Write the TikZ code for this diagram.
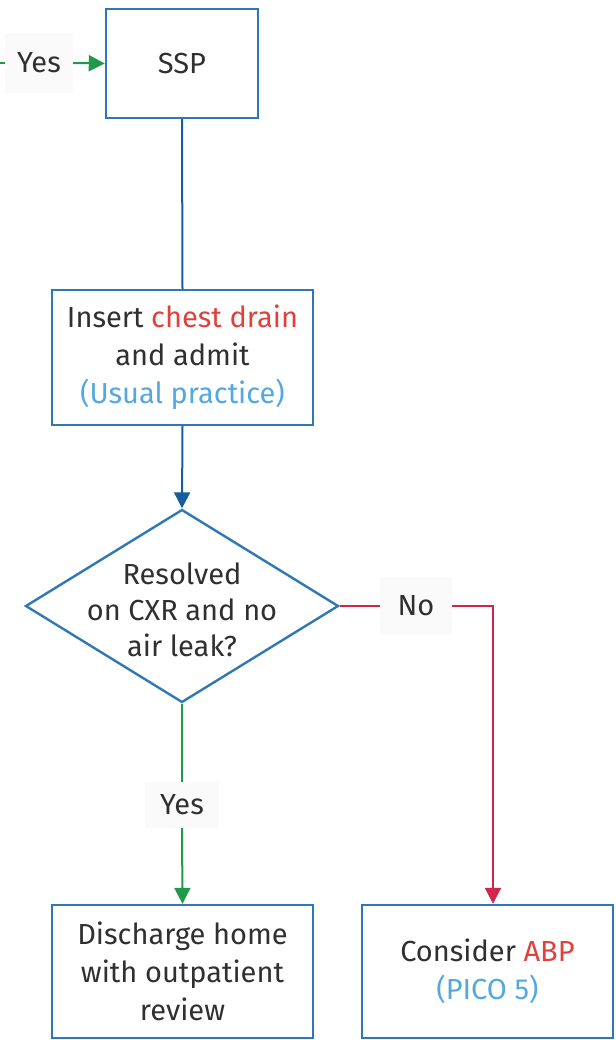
\documentclass[tikz,border=0pt]{standalone}
\usepackage{fontspec}
\setmainfont{Fira Sans}
\usetikzlibrary{arrows.meta,shapes.geometric}
\definecolor{boxblue}{HTML}{2F78B4}
\definecolor{lineblue}{HTML}{135E9E}
\definecolor{txt}{HTML}{303030}
\definecolor{hired}{HTML}{E0413C}
\definecolor{hiblue}{HTML}{55A8DF}
\definecolor{yesgreen}{HTML}{1E9A4A}
\definecolor{nored}{HTML}{D2254C}
\definecolor{lblbg}{HTML}{FAFAFA}
\begin{document}
\begin{tikzpicture}[x=1pt,y=-1pt,
  font=\fontsize{29}{38}\selectfont\color{txt},
  stepbox/.style={draw=boxblue,line width=2.4pt,fill=white,align=center,inner sep=0pt},
  decision/.style={diamond,draw=boxblue,line width=2.4pt,fill=white,inner sep=0pt,
    minimum width=313pt,minimum height=193pt,aspect=1.62},
  lbl/.style={fill=lblbg,inner sep=0pt},
  tip/.style={-{Triangle[width=16pt,length=16pt]}},
  blueline/.style={draw=lineblue,line width=2pt},
  greenline/.style={draw=yesgreen,line width=2pt},
  redline/.style={draw=nored,line width=2pt}]
\useasboundingbox (0,0) rectangle (615,1040);

% boxes
\node[stepbox,minimum width=152pt,minimum height=109pt] (ssp) at (182,63.5) {SSP};
\node[stepbox,minimum width=261pt,minimum height=135pt] (drain) at (182.5,357.5)
  {Insert \textcolor{hired}{chest drain}\\and admit\\\textcolor{hiblue}{(Usual practice)}};
\node[decision] (dia) at (182,606) {};
\node[align=center,font=\fontsize{29}{36}\selectfont\color{txt}] (diatext)
  at ([yshift=-4pt]dia.center) {Resolved\\on CXR and no\\air leak?};
\node[stepbox,minimum width=261pt,minimum height=133pt] (home) at (182.5,971.5)
  {Discharge home\\with outpatient\\review};
\node[stepbox,minimum width=251pt,minimum height=133pt] (abp) at (487.5,971.5)
  {Consider \textcolor{hired}{ABP}\\\textcolor{hiblue}{(PICO 5)}};

% branch labels
\node[lbl,minimum width=68pt,minimum height=60pt] (yestop) at (39,63) {Yes};
\node[lbl,minimum width=72pt,minimum height=58pt] (no) at (416,606) {No};
\node[lbl,minimum width=74pt,minimum height=46pt] (yesdown) at (182,805) {Yes};
\coordinate (entry) at (0,63);

% connectors
\draw[greenline] (entry) -- (yestop.west);
\draw[greenline,tip] (yestop.east) -- (ssp.west);
\draw[blueline] (ssp.south) -- (drain.north);
\draw[blueline,tip] (drain.south) -- (dia.north);
\draw[greenline] (dia.south) -- (yesdown.north);
\draw[greenline,tip] (yesdown.south) -- (home.north);
\draw[redline] (dia.east) -- (no.west);
\draw[redline,tip] (no.east) -| ([xshift=5.5pt]abp.north);
\end{tikzpicture}
\end{document}
